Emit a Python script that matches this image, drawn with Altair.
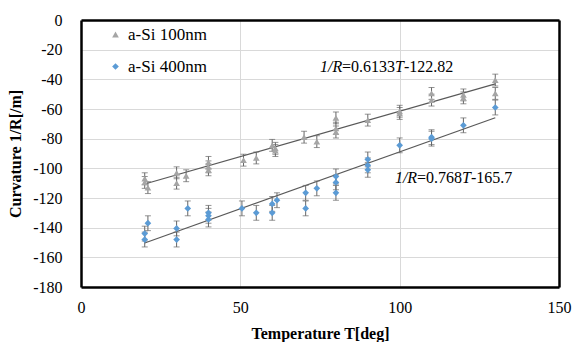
import altair as alt
import pandas as pd

# a-Si 100nm (gray triangles)
t100 = [20, 20, 21, 30, 30, 33, 40, 40, 40, 51, 55, 60, 61, 61, 70, 74, 80, 80, 80, 90, 100, 100, 110, 110, 120, 120, 130, 130]
v100 = [-107, -109.5, -113, -103, -110, -105, -96, -99, -101, -94.5, -93, -84.5, -86.5, -88, -79, -82, -66, -73, -75.5, -67.5, -61.5, -63, -49.5, -54, -50.5, -52.5, -40.5, -49.5]
e100 = [4] * len(t100)

# a-Si 400nm (blue diamonds)
t400 = [20, 20, 21, 30, 30, 33.5, 40, 40, 40, 50.5, 55, 60, 60, 61.5, 70.5, 70.5, 74, 80, 80, 80, 90, 90, 90, 100, 110, 110, 120, 130]
v400 = [-148, -144, -137, -140.5, -148, -127, -130, -132, -134.5, -127, -130, -130, -124, -121.5, -116.5, -127, -113.5, -105.5, -109.5, -116.5, -94, -98, -101, -84.5, -79, -80, -71, -59]
e400 = [5] * len(t400)

series = ["a-Si 100nm", "a-Si 400nm"]
colors = ["#A5A5A5", "#5B9BD5"]
shapes = ["triangle-up", "diamond"]

# fitted lines shown on the chart
fit_slope = [0.6133, 0.768]
fit_icpt = [-122.82, -165.7]
fit_range = [20, 130]

x_ticks = [0, 50, 100, 150]
y_ticks = list(range(-180, 1, 20))
x_dom = [0, 150]
y_dom = [-180, 0]

rows = []
for t, v, e in zip(t100, v100, e100):
    rows.append({"T": t, "v": v, "lo": v - e, "hi": v + e, "s": series[0]})
for t, v, e in zip(t400, v400, e400):
    rows.append({"T": t, "v": v, "lo": v - e, "hi": v + e, "s": series[1]})
df = pd.DataFrame(rows)

fit_rows = []
for s, m, b in zip(series, fit_slope, fit_icpt):
    for t in fit_range:
        fit_rows.append({"T": t, "v": m * t + b, "s": s})
fit_df = pd.DataFrame(fit_rows)

frame_df = pd.DataFrame({"T": x_dom, "v": y_dom})

FONT = "Liberation Serif"
xs = alt.Scale(domain=x_dom, nice=False)
ys = alt.Scale(domain=y_dom, nice=False)

x_axis = alt.Axis(
    values=x_ticks, title="Temperature  T[deg]", grid=True, gridColor="#d9d9d9",
    ticks=False, domain=True, domainColor="#000000", domainWidth=2.5,
    labelFont=FONT, labelFontSize=16, labelColor="black",
    labelPadding=12, labelExpr="'' + datum.value", labelOverlap=False, labelFlush=False,
    titleFont=FONT, titleFontSize=16, titleFontWeight="bold",
    titleColor="black", titlePadding=10, orient="bottom")
y_axis = alt.Axis(
    values=y_ticks, title="Curvature  1/R[/m]", grid=True, gridColor="#d9d9d9",
    ticks=False, domain=True, domainColor="#000000", domainWidth=2.5,
    labelFont=FONT, labelFontSize=16, labelColor="black",
    labelPadding=19, labelExpr="'' + datum.value", labelOverlap=False, labelFlush=False,
    labelSeparation=0, titleFont=FONT, titleFontSize=16, titleFontWeight="bold",
    titleColor="black", titlePadding=9, orient="left")
top_axis = alt.Axis(orient="top", labels=False, ticks=False, grid=False, title=None,
                    domain=True, domainColor="#000000", domainWidth=2.5)
right_axis = alt.Axis(orient="right", labels=False, ticks=False, grid=False, title=None,
                      domain=True, domainColor="#000000", domainWidth=2.5)

Xn = alt.X("T:Q", scale=xs, axis=None)
Yn = alt.Y("v:Q", scale=ys, axis=None)

color_scale = alt.Scale(domain=series, range=colors)
shape_scale = alt.Scale(domain=series, range=shapes)

fits = alt.Chart(fit_df).mark_line(color="#595959", strokeWidth=1.2).encode(
    x=alt.X("T:Q", scale=xs, axis=x_axis), y=alt.Y("v:Q", scale=ys, axis=y_axis), detail="s:N")

frame = alt.Chart(frame_df).mark_point(opacity=0).encode(
    x=alt.X("T:Q", scale=xs, axis=top_axis), y=alt.Y("v:Q", scale=ys, axis=right_axis))

rules = alt.Chart(df).mark_rule(color="#666666", strokeWidth=1).encode(
    x=Xn, y=alt.Y("lo:Q", scale=ys, axis=None), y2="hi:Q")
caps_lo = alt.Chart(df).mark_tick(color="#666666", orient="horizontal", size=6, thickness=1).encode(
    x=Xn, y=alt.Y("lo:Q", scale=ys, axis=None))
caps_hi = alt.Chart(df).mark_tick(color="#666666", orient="horizontal", size=6, thickness=1).encode(
    x=Xn, y=alt.Y("hi:Q", scale=ys, axis=None))

leg = alt.Legend(title=None, orient="none", legendX=26, legendY=6, labelFont=FONT,
                 labelFontSize=17, labelColor="black", symbolSize=45, rowPadding=14,
                 labelOffset=4)
points = alt.Chart(df).mark_point(filled=True, size=45, opacity=1).encode(
    x=Xn, y=Yn,
    color=alt.Color("s:N", scale=color_scale, legend=leg),
    shape=alt.Shape("s:N", scale=shape_scale, legend=leg))

# annotation pieces: text, italic flag, T, value, dx
ann_text = ["1/R", "=0.6133", "T", "-122.82", "1/R", "=0.768", "T", "-165.7"]
ann_ital = [True, False, True, False, True, False, True, False]
ann_T = [75, 75, 75, 75, 98.5, 98.5, 98.5, 98.5]
ann_v = [-31.7] * 4 + [-106.5] * 4
ann_dx = [0, 22, 75, 84, 0, 22, 67, 76]
ann_df = pd.DataFrame({"txt": ann_text, "it": ["italic" if i else "normal" for i in ann_ital],
                       "T": ann_T, "v": ann_v, "dx": ann_dx})

ann_layers = []
for i in range(len(ann_df)):
    r = ann_df.iloc[[i]]
    ann_layers.append(alt.Chart(r).mark_text(
        align="left", baseline="middle", font=FONT, fontSize=16,
        fontStyle=r["it"].iloc[0], dx=int(r["dx"].iloc[0]), color="black").encode(
        x=Xn, y=Yn, text="txt:N"))

chart = alt.layer(fits, frame, rules, caps_lo, caps_hi, points, *ann_layers).resolve_axis(
    x="independent", y="independent").resolve_legend(
    color="shared", shape="shared").properties(
    width=478, height=267,
    padding={"left": 81, "top": 20, "right": 17, "bottom": 55},
    autosize=alt.AutoSizeParams(type="none")
).configure_view(stroke=None).configure_axis(labelOverlap=False)

chart.save("out.html", embed_options={"renderer": "svg", "actions": False})
